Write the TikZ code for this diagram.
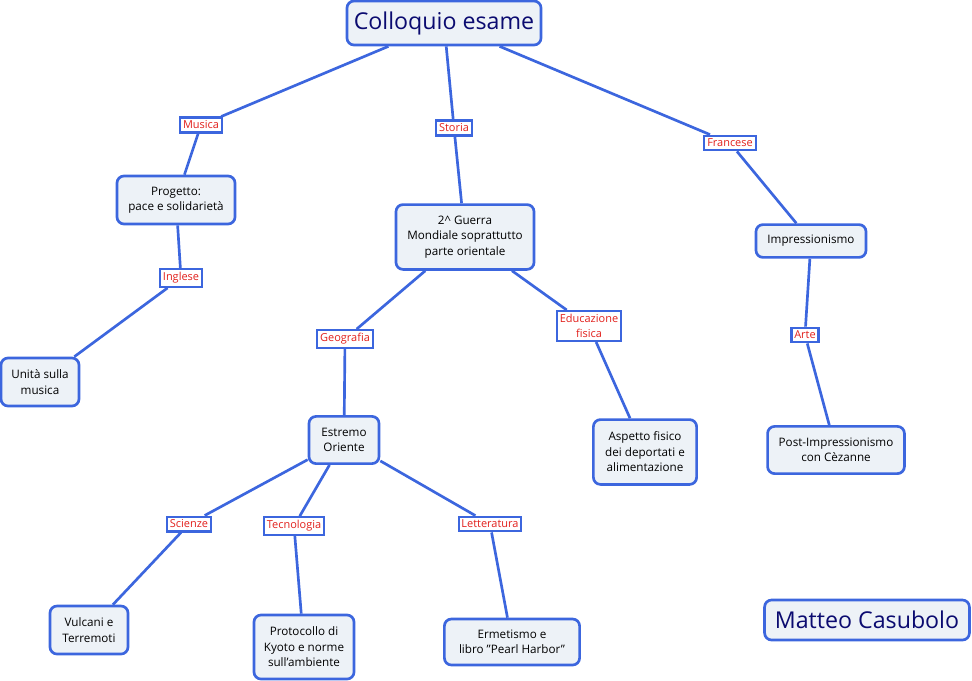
\documentclass[tikz,border=0pt]{standalone}
\usepackage{fontspec}
\setmainfont{Open Sans}
\usepackage{tikz}
\usetikzlibrary{positioning}

\definecolor{mapblue}{HTML}{3C66DE}
\definecolor{mapfill}{HTML}{EDF2F7}
\definecolor{mapred}{HTML}{E2201C}
\definecolor{mapnavy}{HTML}{0B0B70}

\begin{document}
\begin{tikzpicture}[
  x=0.025cm, y=-0.025cm,
  concept/.style={draw=mapblue, fill=mapfill, line width=1.9pt, rounded corners=5pt,
                  align=center, font=\fontsize{8.3}{11}\selectfont, inner sep=2pt},
  title/.style={concept, font=\fontsize{16.5}{20}\selectfont, text=mapnavy},
  link/.style={draw=mapblue, fill=white, line width=1.5pt, align=center,
               text=mapred, font=\fontsize{7.8}{10.5}\selectfont,
               inner xsep=2pt, inner ysep=2.4pt},
  conn/.style={draw=mapblue, line width=1.9pt}
]
\useasboundingbox (0,0) rectangle (972,680);

% concetti
\node[title, minimum width=4.85cm, minimum height=1.1cm] (root) at (444,23) {Colloquio esame};
\node[concept, minimum width=2.95cm, minimum height=1.2cm] (prog) at (176,200) {Progetto:\\pace e solidarietà};
\node[concept, minimum width=3.45cm, minimum height=1.62cm] (guerra) at (465,237) {2\^{} Guerra\\Mondiale soprattutto\\parte orientale};
\node[concept, minimum width=2.75cm, minimum height=0.82cm] (impr) at (811,241) {Impressionismo};
\node[concept, minimum width=1.95cm, minimum height=1.2cm] (unita) at (40,382) {Unità sulla\\musica};
\node[concept, minimum width=1.75cm, minimum height=1.18cm] (oriente) at (344,440) {Estremo\\Oriente};
\node[concept, minimum width=2.58cm, minimum height=1.62cm] (aspetto) at (645,452) {Aspetto fisico\\dei deportati e\\alimentazione};
\node[concept, minimum width=3.42cm, minimum height=1.18cm] (post) at (836,450) {Post-Impressionismo\\con Cèzanne};
\node[concept, minimum width=1.95cm, minimum height=1.2cm] (vulcani) at (89,630) {Vulcani e\\Terremoti};
\node[concept, minimum width=2.5cm, minimum height=1.6cm] (kyoto) at (304,647) {Protocollo di\\Kyoto e norme\\sull'ambiente};
\node[concept, minimum width=3.38cm, minimum height=1.15cm] (ermet) at (512,642) {Ermetismo e\\libro \symbol{34}Pearl Harbor\symbol{34}};
\node[title, minimum width=5.12cm, minimum height=1cm] (autore) at (867,620) {Matteo Casubolo};

% etichette
\node[link] (musica) at (201,125) {Musica};
\node[link] (storia) at (454,128) {Storia};
\node[link] (francese) at (730,143) {Francese};
\node[link] (inglese) at (181,278) {Inglese};
\node[link] (geo) at (345,339) {Geografia};
\node[link] (edfis) at (589,326) {Educazione\\fisica};
\node[link] (arte) at (805,335) {Arte};
\node[link] (scienze) at (189,524) {Scienze};
\node[link] (tecno) at (294,526) {Tecnologia};
\node[link] (lett) at (490,524) {Letteratura};

% collegamenti
\draw[conn] (root) -- (musica) -- (prog);
\draw[conn] (root) -- (storia) -- (guerra);
\draw[conn] (root) -- (francese) -- (impr);
\draw[conn] (prog) -- (inglese) -- (unita);
\draw[conn] (guerra) -- (geo) -- (oriente);
\draw[conn] (guerra) -- (edfis) -- (aspetto);
\draw[conn] (impr) -- (arte) -- (post);
\draw[conn] (oriente) -- (scienze) -- (vulcani);
\draw[conn] (oriente) -- (tecno) -- (kyoto);
\draw[conn] (oriente) -- (lett) -- (ermet);
\end{tikzpicture}
\end{document}
